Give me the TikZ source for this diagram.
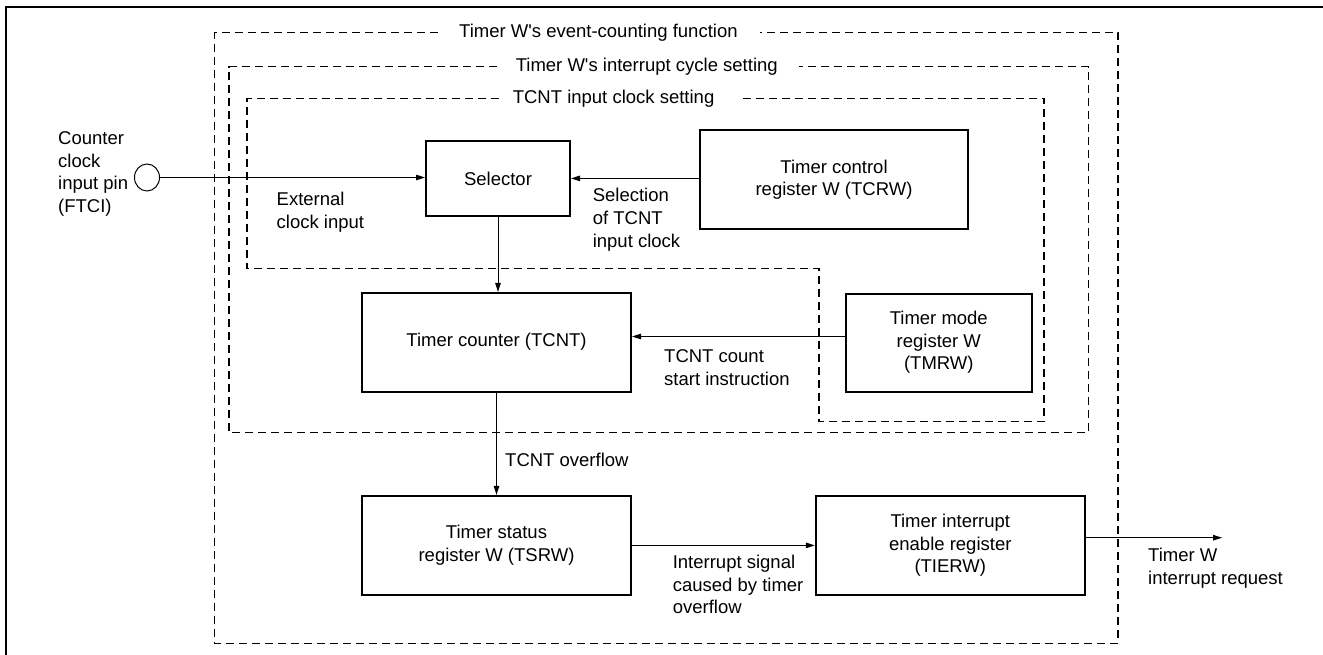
\documentclass[tikz,border=0pt]{standalone}
\usepackage{fontspec}
\setmainfont{Liberation Sans}
\usetikzlibrary{arrows.meta,calc,shapes.geometric}
\begin{document}
\begin{tikzpicture}[x=1pt,y=-1pt,
  every node/.style={font=\fontsize{18.5}{22.7}\selectfont, inner sep=0pt},
  blk/.style={draw, line width=2pt, align=center},
  arr/.style={line width=1pt, -{Triangle[length=9pt,width=5.5pt]}},
  grp/.style={line width=1.1pt, dash pattern=on 8pt off 5pt},
  lbl/.style={anchor=west, align=left}]
\useasboundingbox (0,0) rectangle (1323,655);
% outer frame
\draw[line width=2.5pt] (6,655) -- (6,7) -- (1323,7);
% group boxes
\draw[grp] (437.7,32.7) -- (214.6,32.7) -- (214.6,643.3) -- (1118,643.3) -- (1118,32.7) -- (760,32.7);
\draw[grp] (496.6,66.7) -- (229,66.7) -- (229,432.7) -- (1088.5,432.7) -- (1088.5,66.7) -- (799,66.7);
\draw[grp] (498.7,98.3) -- (247,98.3) -- (247,268.3) -- (819,268.3) -- (819,421.7) -- (1044,421.7) -- (1044,98.3) -- (740,98.3);
\node[lbl] (gev) at (459,33) {Timer W\textquotesingle s event-counting function};
\node[lbl] (gint) at (515.6,66.7) {Timer W\textquotesingle s interrupt cycle setting};
\node[lbl] (gclk) at (512.6,98.3) {TCNT input clock setting};
% blocks
\node[blk, minimum width=144pt, minimum height=75pt] (sel) at (498,178.4) {Selector};
\node[blk, minimum width=268.5pt, minimum height=99pt] (tcrw) at (834,179.7) {Timer control\\register W (TCRW)};
\node[blk, minimum width=269pt, minimum height=99pt] (tcnt) at (496.5,342.4) {\raisebox{6pt}{Timer counter (TCNT)}};
\node[blk, minimum width=186pt, minimum height=98pt] (tmrw) at (938.8,342.5) {Timer mode\\register W\\(TMRW)};
\node[blk, minimum width=269pt, minimum height=99pt] (tsrw) at (496.5,545.4) {Timer status\\register W (TSRW)};
\node[blk, minimum width=269pt, minimum height=99pt] (tierw) at (950.3,545.4) {Timer interrupt\\enable register\\(TIERW)};
% pin
\node[draw, line width=1pt, ellipse, minimum width=25pt, minimum height=27pt] (pin) at (147,177.5) {};
\node[lbl] (pinl) at (58,174) {Counter\\clock\\input pin\\(FTCI)};
% connectors
\draw[arr] (pin.east) -- (sel.west |- pin.east);
\draw[arr] (sel.east -| tcrw.west) -- (sel.east);
\draw[arr] (sel.south) -- (sel.south |- tcnt.north);
\draw[arr] ([yshift=6pt]tmrw.west) -- ([yshift=6pt]tmrw.west -| tcnt.east);
\draw[arr] (tcnt.south) -- (tcnt.south |- tsrw.north);
\draw[arr] (tsrw.east) -- (tsrw.east -| tierw.west);
\coordinate (out) at (1222,537.7);
\draw[arr] ([yshift=7.7pt]tierw.east) -- (out);
% labels
\node[lbl] (extl) at (276.5,212) {External\\clock input};
\node[lbl] (sell) at (592.6,219.7) {Selection\\of TCNT\\input clock};
\node[lbl] (cntl) at (664,367.5) {TCNT count\\start instruction};
\node[lbl] (ovfl) at (505,460) {TCNT overflow};
\node[lbl] (intl) at (672.6,584.5) {Interrupt signal\\caused by timer\\overflow};
\node[lbl] (reql) at (1148,568) {Timer W\\interrupt request};
\end{tikzpicture}
\end{document}
